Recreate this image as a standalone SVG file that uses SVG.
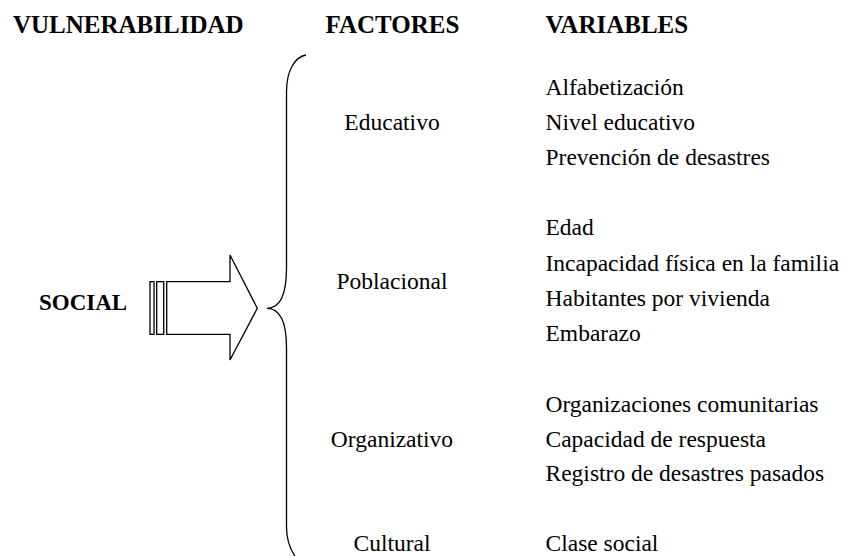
<svg xmlns="http://www.w3.org/2000/svg" width="847" height="556" viewBox="0 0 847 556">
<style>
text{font-family:'Liberation Serif','DejaVu Serif',serif;fill:#000}
.h{font-size:25px;font-weight:bold}
.b{font-size:23.5px}
.c{text-anchor:middle}
.ln{fill:none;stroke:#000;stroke-width:1.3}
</style>
<rect width="847" height="556" fill="#fff"/>
<g id="headers">
<text class="h" x="13" y="33" font-family="Liberation Serif">VULNERABILIDAD</text>
<text class="h c" x="392.5" y="33" font-family="Liberation Serif">FACTORES</text>
<text class="h" x="545.5" y="33" font-family="Liberation Serif">VARIABLES</text>
</g>
<g id="social">
<text class="h" x="39" y="310" style="font-size:23px">SOCIAL</text>
</g>
<g id="arrow">
<rect class="ln" x="150" y="281.7" width="4" height="52.6"/>
<rect class="ln" x="156.7" y="281.7" width="7" height="52.6"/>
<polygon class="ln" points="166.7,281.7 230,281.7 230,255 257.3,308.3 230,360 230,334.3 166.7,334.3"/>
</g>
<g id="connectors">
<path class="ln" d="M306,55 C295,57 286.5,70 286.5,92 L286.5,268 C286.5,295 280,308.3 267,308.3 C280,308.3 286.5,321 286.5,348 L286.5,527 C286.5,540 290,550 297,559"/>
</g>
<g id="educativo">
<text class="b c" x="392" y="130">Educativo</text>
<text class="b" x="545.5" y="95">Alfabetización</text>
<text class="b" x="545.5" y="130">Nivel educativo</text>
<text class="b" x="545.5" y="165">Prevención de desastres</text>
</g>
<g id="poblacional">
<text class="b c" x="392" y="288.5">Poblacional</text>
<text class="b" x="545.5" y="235">Edad</text>
<text class="b" x="545.5" y="270.5">Incapacidad física en la familia</text>
<text class="b" x="545.5" y="306">Habitantes por vivienda</text>
<text class="b" x="545.5" y="341">Embarazo</text>
</g>
<g id="organizativo">
<text class="b c" x="392" y="446.5">Organizativo</text>
<text class="b" x="545.5" y="411.5">Organizaciones comunitarias</text>
<text class="b" x="545.5" y="446.5">Capacidad de respuesta</text>
<text class="b" x="545.5" y="480.5">Registro de desastres pasados</text>
</g>
<g id="cultural">
<text class="b c" x="392" y="551">Cultural</text>
<text class="b" x="545.5" y="551">Clase social</text>
</g>
</svg>
